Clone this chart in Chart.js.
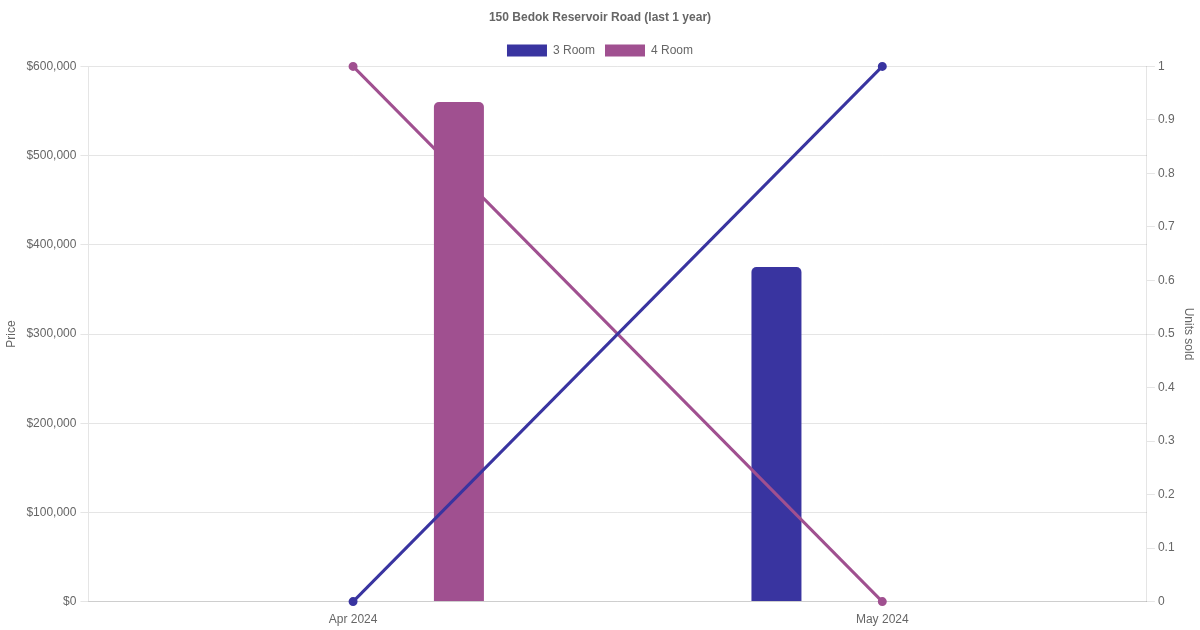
<!DOCTYPE html>
<html>
<head>
<meta charset="utf-8">
<script src="https://cdn.jsdelivr.net/npm/chart.js@4"></script>
<style>
  html, body { margin: 0; padding: 0; background: #fff; }
  #wrap { width: 1200px; height: 630px; }
</style>
</head>
<body>
<div id="wrap"><canvas id="chart"></canvas></div>
<script>
// data
const months = ['Apr 2024', 'May 2024'];
const price3Room = [null, 375000];
const price4Room = [560000, null];
const units3Room = [0, 1];
const units4Room = [1, 0];

const blue = '#3934a0';
const purple = '#a05090';

const ctx = document.getElementById('chart').getContext('2d');
new Chart(ctx, {
  data: {
    labels: months,
    datasets: [
      { type: 'bar', label: '3 Room', data: price3Room, backgroundColor: blue, borderColor: blue,
        borderRadius: 5, maxBarThickness: 50, yAxisID: 'y', order: 2 },
      { type: 'bar', label: '4 Room', data: price4Room, backgroundColor: purple, borderColor: purple,
        borderRadius: 5, maxBarThickness: 50, yAxisID: 'y', order: 2 },
      { type: 'line', label: '3 Room units', data: units3Room, borderColor: blue, backgroundColor: blue,
        borderWidth: 3, pointRadius: 3, yAxisID: 'y1', order: 1, clip: false },
      { type: 'line', label: '4 Room units', data: units4Room, borderColor: purple, backgroundColor: purple,
        borderWidth: 3, pointRadius: 3, yAxisID: 'y1', order: 1, clip: false }
    ]
  },
  options: {
    responsive: true,
    maintainAspectRatio: false,
    animation: false,
    plugins: {
      title: { display: true, text: '150 Bedok Reservoir Road (last 1 year)', color: '#666', font: { size: 12, weight: 'bold' } },
      legend: {
        labels: {
          color: '#666',
          filter: (item, data) => data.datasets[item.datasetIndex].type === 'bar'
        }
      }
    },
    scales: {
      x: {
        grid: { display: false },
        ticks: { color: '#666' }
      },
      y: {
        position: 'left',
        min: 0,
        max: 600000,
        ticks: { stepSize: 100000, color: '#666', padding: 4, callback: v => '$' + v.toLocaleString('en-US') },
        title: { display: true, text: 'Price', color: '#666' }
      },
      y1: {
        position: 'right',
        min: 0,
        max: 1,
        grid: { drawOnChartArea: false },
        ticks: { stepSize: 0.1, color: '#666', callback: v => String(Math.round(v * 10) / 10) },
        title: { display: true, text: 'Units sold', color: '#666' }
      }
    }
  }
});
</script>
</body>
</html>
